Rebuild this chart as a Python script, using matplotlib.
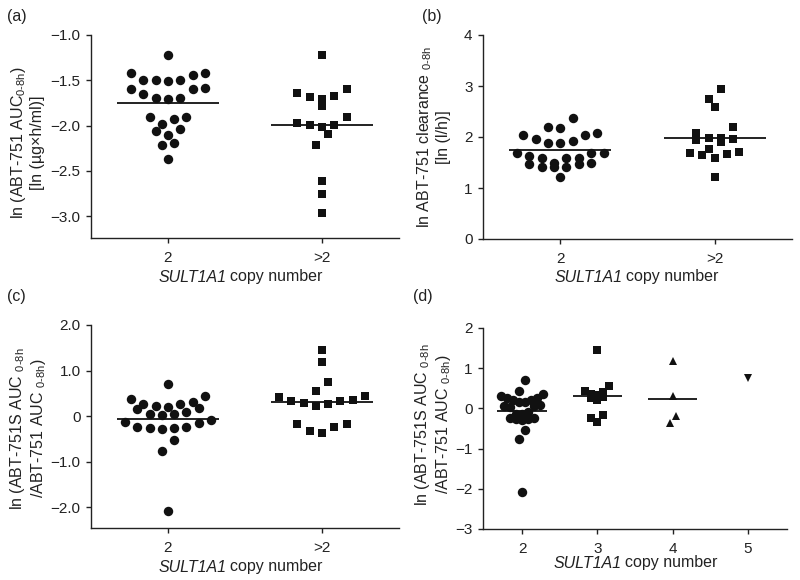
import numpy as np
import matplotlib
matplotlib.use("Agg")
import matplotlib.pyplot as plt

plt.rcParams['font.family'] = ['Liberation Sans', 'DejaVu Sans']
plt.rcParams['mathtext.fontset'] = 'custom'
plt.rcParams['mathtext.rm'] = 'Liberation Sans'
plt.rcParams['mathtext.it'] = 'Liberation Sans:italic'
plt.rcParams['mathtext.bf'] = 'Liberation Sans:bold'

# ---------------- data ----------------
# (a) ln ABT-751 AUC0-8h
auc_cn2 = [-1.22, -1.42, -1.42, -1.44, -1.50, -1.50, -1.51, -1.50, -1.59, -1.60,
           -1.60, -1.65, -1.69, -1.71, -1.70, -1.90, -1.91, -1.93, -1.98, -2.06,
           -2.04, -2.10, -2.19, -2.21, -2.37]
auc_gt2 = [-1.22, -1.60, -1.64, -1.67, -1.68, -1.71, -1.78, -1.91, -1.97, -1.99,
           -1.99, -2.01, -2.09, -2.21, -2.61, -2.75, -2.96]
# (b) ln ABT-751 clearance0-8h
cl_cn2 = [2.07, 2.04, 2.19, 2.17, 2.37, 1.92, 1.88, 1.89, 1.97, 2.04, 1.58, 1.68,
          1.63, 1.68, 1.69, 1.58, 1.58, 1.50, 1.50, 1.42, 1.48, 1.48, 1.42, 1.42, 1.21]
cl_gt2 = [2.95, 2.74, 2.58, 2.20, 1.99, 1.97, 1.90, 1.95, 1.99, 2.07, 1.76, 1.68,
          1.64, 1.59, 1.66, 1.70, 1.21]
# (c)/(d) ln (ABT-751S AUC / ABT-751 AUC)
ratio_cn2 = [0.70, 0.37, 0.44, 0.26, 0.22, 0.26, 0.30, 0.17, 0.20, 0.15, 0.09, 0.05,
             0.03, 0.05, -0.13, -0.08, -0.24, -0.27, -0.27, -0.29, -0.24, -0.15,
             -0.53, -0.77, -2.08]
ratio_cn3 = [1.45, 0.41, 0.27, 0.33, 0.56, 0.21, 0.35, 0.28, 0.43, -0.17, -0.33, -0.23]
ratio_cn4 = [1.19, 0.32, -0.18, -0.37]
ratio_cn5 = [0.75]
ratio_gt2 = ratio_cn3 + ratio_cn4 + ratio_cn5

cats_ab = ['2', '>2']
cats_d = [2, 3, 4, 5]

# ---------------- helpers ----------------
COL = '#111111'
TXT = '#222222'
FS_TICK = 11
FS_LAB = 11.5
W, H = 800.0, 580.0


def swarm_offsets(ax, values, spacing, row_px=11.0, max_n=8):
    vals = np.asarray(values, float)
    ypx = ax.transData.transform(np.column_stack([np.zeros_like(vals), vals]))[:, 1]
    order = np.argsort(-vals, kind='stable')
    rows, cur, top = [], [], None
    for i in order:
        if cur and (top - ypx[i] > row_px or len(cur) >= max_n):
            rows.append(cur)
            cur = []
        if not cur:
            top = ypx[i]
        cur.append(i)
    if cur:
        rows.append(cur)
    offs = np.zeros(len(vals))
    for r in rows:
        n = len(r)
        pos = (np.arange(n) - (n - 1) / 2.0) * spacing
        pos_order = sorted(range(n), key=lambda k: (abs(pos[k]), pos[k]))
        r_sorted = sorted(r, key=lambda i: vals[i])
        for i, k in zip(r_sorted, pos_order):
            offs[i] = pos[k]
    return offs


def style_axes(ax):
    for s in ['top', 'right']:
        ax.spines[s].set_visible(False)
    for s in ['left', 'bottom']:
        ax.spines[s].set_linewidth(1.0)
        ax.spines[s].set_color(TXT)
    ax.tick_params(axis='both', direction='out', length=3.5, width=1.0,
                   color=TXT, labelsize=FS_TICK, labelcolor=TXT)
    ax.tick_params(axis='y', pad=4)
    ax.tick_params(axis='x', pad=6)


def draw_group(ax, x, values, marker, ms, spacing=0.08, half=0.33, line=True):
    offs = swarm_offsets(ax, values, spacing)
    ax.plot(x + offs, values, linestyle='none', marker=marker, ms=ms,
            color=COL, mec=COL, mew=0, zorder=3, clip_on=False)
    if line and len(values) > 1:
        m = float(np.mean(values))
        ax.plot([x - half, x + half], [m, m], color=COL, lw=1.3, zorder=2,
                solid_capstyle='butt')


fig = plt.figure(figsize=(8, 5.8), dpi=100)
renderer = fig.canvas.get_renderer()


def rect(left, right, top, bottom):
    return [left / W, 1 - bottom / H, (right - left) / W, (bottom - top) / H]


def xlabel(cx, cy, gap=3.5):
    t1 = fig.text(0, 0, 'SULT1A1', fontsize=FS_LAB, style='italic', color=TXT,
                  ha='left', va='center')
    t2 = fig.text(0, 0, 'copy number', fontsize=FS_LAB, color=TXT,
                  ha='left', va='center')
    w1 = t1.get_window_extent(renderer).width
    w2 = t2.get_window_extent(renderer).width
    x0 = cx - (w1 + gap + w2) / 2.0
    t1.set_position((x0 / W, 1 - cy / H))
    t2.set_position(((x0 + w1 + gap) / W, 1 - cy / H))


def panel(x, y, s):
    fig.text(x / W, 1 - y / H, s, fontsize=FS_LAB, va='center', ha='left', color=TXT)


SUB = '$_{\\mathregular{0\u20108h}}$'

# ---------------- (a) ----------------
axa = fig.add_axes(rect(91, 399, 35, 238))
style_axes(axa)
axa.set_xlim(-0.5, 1.5)
axa.set_ylim(-3.24, -1.0)
axa.set_yticks([-3.0, -2.5, -2.0, -1.5, -1.0])
axa.set_yticklabels(['\u22123.0', '\u22122.5', '\u22122.0', '\u22121.5', '\u22121.0'])
axa.set_xticks([0, 1])
axa.set_xticklabels(cats_ab)
draw_group(axa, 0, auc_cn2, 'o', 6.8)
draw_group(axa, 1, auc_gt2, 's', 6.0)
axa.set_ylabel('ln (ABT-751 AUC' + SUB + ')\n[ln (\u00b5g\u00d7h/ml)]',
               fontsize=FS_LAB, linespacing=1.15, color=TXT)
axa.yaxis.set_label_coords(-0.15, 0.47)
xlabel(240, 277)
panel(7, 16, '(a)')

# ---------------- (b) ----------------
axb = fig.add_axes(rect(483, 792, 35, 239))
style_axes(axb)
axb.set_xlim(-0.5, 1.5)
axb.set_ylim(0, 4)
axb.set_yticks([0, 1, 2, 3, 4])
axb.set_xticks([0, 1])
axb.set_xticklabels(cats_ab)
draw_group(axb, 0, cl_cn2, 'o', 6.8)
draw_group(axb, 1, cl_gt2, 's', 6.0)
axb.set_ylabel('ln ABT-751 clearance ' + SUB + '\n[ln (l/h)]',
               fontsize=FS_LAB, linespacing=1.15, color=TXT)
axb.yaxis.set_label_coords(-0.105, 0.5)
xlabel(636, 277)
panel(422, 16, '(b)')

# ---------------- (c) ----------------
axc = fig.add_axes(rect(91, 399, 325, 528))
style_axes(axc)
axc.set_xlim(-0.5, 1.5)
axc.set_ylim(-2.46, 2.0)
axc.set_yticks([-2, -1, 0, 1, 2])
axc.set_yticklabels(['\u22122.0', '\u22121.0', '0', '1.0', '2.0'])
axc.set_xticks([0, 1])
axc.set_xticklabels(cats_ab)
draw_group(axc, 0, ratio_cn2, 'o', 6.8)
draw_group(axc, 1, ratio_gt2, 's', 6.0)
axc.set_ylabel('ln (ABT-751S AUC ' + SUB + '\n/ABT-751 AUC ' + SUB + ')',
               fontsize=FS_LAB, linespacing=1.15, color=TXT)
axc.yaxis.set_label_coords(-0.14, 0.49)
xlabel(240, 567)
panel(7, 297, '(c)')

# ---------------- (d) ----------------
axd = fig.add_axes(rect(483, 787, 328, 529))
style_axes(axd)
axd.set_xlim(1.48, 5.52)
axd.set_ylim(-3, 2)
axd.set_yticks([-3, -2, -1, 0, 1, 2])
axd.set_yticklabels(['\u22123', '\u22122', '\u22121', '0', '1', '2'])
axd.set_xticks(cats_d)
draw_group(axd, 2, ratio_cn2, 'o', 6.8)
draw_group(axd, 3, ratio_cn3, 's', 6.0)
draw_group(axd, 4, ratio_cn4, '^', 6.0)
draw_group(axd, 5, ratio_cn5, 'v', 6.0)
axd.set_ylabel('ln (ABT-751S AUC ' + SUB + '\n/ABT-751 AUC ' + SUB + ')',
               fontsize=FS_LAB, linespacing=1.15, color=TXT)
axd.yaxis.set_label_coords(-0.098, 0.52)
xlabel(635, 563)
panel(413, 297, '(d)')

fig.savefig('out.png', dpi=100)
